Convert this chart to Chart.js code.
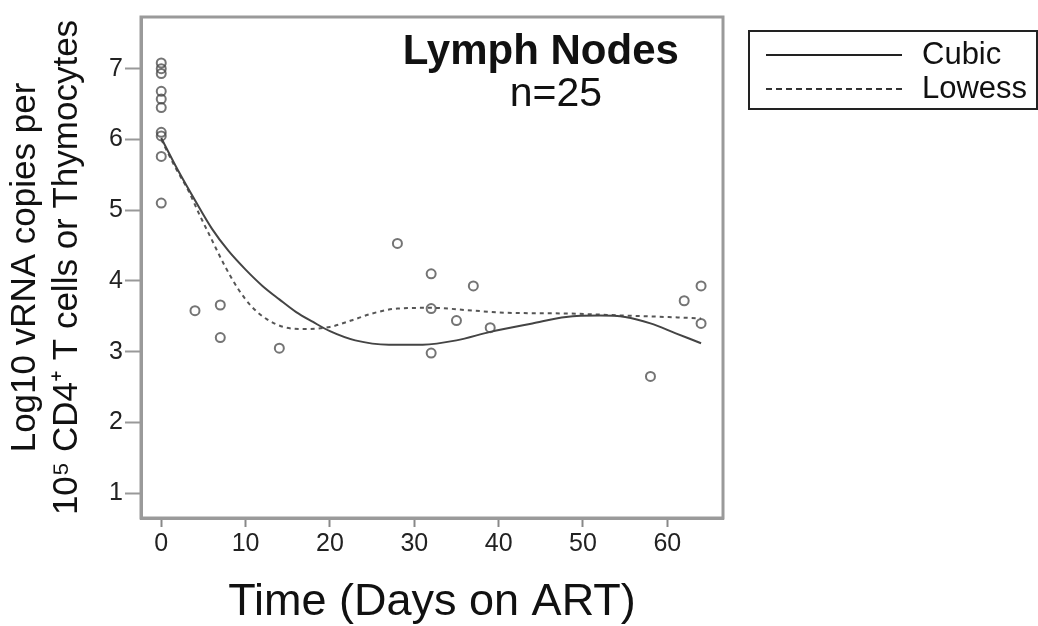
<!DOCTYPE html>
<html>
<head>
<meta charset="utf-8">
<script src="https://cdn.jsdelivr.net/npm/chart.js@4.4.1/dist/chart.umd.min.js"></script>
<style>
  body { margin: 0; background: #fff; font-family: "Liberation Sans", Arial, sans-serif; }
  #wrap { position: relative; width: 1038px; height: 626px; }
  #legend { position: absolute; left: 748px; top: 30px; width: 286px; height: 76px; border: 2px solid #222; }
  .row { position: absolute; left: 0; width: 100%; height: 36px; }
  .sample { position: absolute; left: 16px; width: 136px; top: 18px; }
  .lbl { position: absolute; left: 172px; top: 0; font-size: 31px; line-height: 36px; color: #111; }
</style>
</head>
<body>
<div id="wrap">
  <canvas id="chart" width="1038" height="626"></canvas>
  <div id="legend">
    <div class="row" style="top:4px"><div class="sample" style="border-top:2px solid #222"></div><div class="lbl">Cubic</div></div>
    <div class="row" style="top:38px"><div class="sample" style="border-top:2px dashed #333"></div><div class="lbl">Lowess</div></div>
  </div>
</div>
<script>
// observed data points (days on ART, log10 vRNA)
const pointDays = [0, 0, 0, 0, 0, 0, 0, 0, 0, 0, 4, 7, 7, 14, 28, 32, 32, 32, 35, 37, 39, 58, 62, 64, 64];
const pointVals = [7.08, 7.0, 6.93, 6.68, 6.57, 6.45, 6.1, 6.05, 5.76, 5.1, 3.58, 3.66, 3.2, 3.05, 4.53, 4.1, 3.61, 2.98, 3.44, 3.93, 3.34, 2.65, 3.72, 3.93, 3.4];

// cubic fit
const cubicDays = [0, 2, 4, 6, 8, 10, 12, 14, 16, 18, 20, 23, 27, 31, 35, 39, 44, 48, 52, 55, 58, 61, 64];
const cubicVals = [6.02, 5.56, 5.14, 4.74, 4.42, 4.16, 3.93, 3.74, 3.56, 3.42, 3.29, 3.16, 3.10, 3.10, 3.16, 3.28, 3.40, 3.49, 3.51, 3.49, 3.40, 3.26, 3.12];

// lowess fit
const lowessDays = [0, 1.6, 3.2, 4.6, 6, 7.5, 9.1, 10.7, 12.5, 14.5, 17, 20, 22.5, 25, 28, 32, 37, 41, 48, 55, 60, 64];
const lowessVals = [6.0, 5.62, 5.28, 4.92, 4.58, 4.22, 3.89, 3.64, 3.46, 3.35, 3.32, 3.35, 3.44, 3.54, 3.61, 3.62, 3.58, 3.55, 3.54, 3.51, 3.49, 3.47];

const xTicks = [0, 10, 20, 30, 40, 50, 60];
const yTicks = [1, 2, 3, 4, 5, 6, 7];

function pairs(xs, ys) {
  return xs.map((x, i) => ({ x: x, y: ys[i] }));
}

const frame = {
  id: 'frame',
  afterDraw(chart) {
    const ctx = chart.ctx;
    const a = chart.chartArea;
    ctx.save();
    ctx.strokeStyle = '#9a9a9a';
    ctx.lineWidth = 3;
    ctx.strokeRect(a.left, a.top, a.right - a.left, a.bottom - a.top);
    // panel text
    const xs = chart.scales.x, ys = chart.scales.y;
    ctx.fillStyle = '#111';
    ctx.textAlign = 'center';
    ctx.textBaseline = 'alphabetic';
    ctx.font = 'bold 42px "Liberation Sans", Arial, sans-serif';
    ctx.fillText('Lymph Nodes', xs.getPixelForValue(45.0), ys.getPixelForValue(7.06));
    ctx.font = '41px "Liberation Sans", Arial, sans-serif';
    ctx.fillText('n=25', xs.getPixelForValue(46.8), ys.getPixelForValue(6.47));
    ctx.restore();
  }
};

new Chart(document.getElementById('chart'), {
  type: 'scatter',
  data: {
    datasets: [
      {
        label: 'Cubic',
        data: pairs(cubicDays, cubicVals),
        showLine: true,
        borderColor: '#444',
        borderWidth: 2,
        pointRadius: 0,
        cubicInterpolationMode: 'monotone'
      },
      {
        label: 'Lowess',
        data: pairs(lowessDays, lowessVals),
        showLine: true,
        borderColor: '#555',
        borderWidth: 2,
        borderDash: [4, 4],
        pointRadius: 0,
        cubicInterpolationMode: 'monotone'
      },
      {
        label: 'Data',
        data: pairs(pointDays, pointVals),
        pointRadius: 4.5,
        pointBorderWidth: 2,
        borderColor: 'rgba(70,70,70,0.75)',
        backgroundColor: 'rgba(0,0,0,0)'
      }
    ]
  },
  options: {
    responsive: false,
    animation: false,
    devicePixelRatio: 1,
    layout: { padding: { left: 0, top: 12, right: 315, bottom: 0 } },
    plugins: { legend: { display: false }, tooltip: { enabled: false } },
    scales: {
      x: {
        type: 'linear',
        min: -2.4,
        max: 66.6,
        afterBuildTicks: s => { s.ticks = xTicks.map(v => ({ value: v })); },
        afterFit: s => { s.height = 108; },
        grid: { drawOnChartArea: false, tickLength: 9, color: '#888', tickWidth: 2 },
        border: { color: '#9a9a9a', width: 3 },
        ticks: { color: '#222', padding: 2, font: { size: 25, family: '"Liberation Sans", Arial' } },
        title: {
          display: true,
          text: 'Time (Days on ART)',
          color: '#111',
          font: { size: 45, family: '"Liberation Sans", Arial' },
          padding: { top: 4, bottom: -4 }
        }
      },
      y: {
        min: 0.65,
        max: 7.73,
        afterBuildTicks: s => { s.ticks = yTicks.map(v => ({ value: v })); },
        afterFit: s => { s.width = 141; },
        grid: { drawOnChartArea: false, tickLength: 16, color: '#999', tickWidth: 2 },
        border: { color: '#9a9a9a', width: 3 },
        ticks: { color: '#222', padding: 2, font: { size: 25, family: '"Liberation Sans", Arial' } },
        title: {
          display: true,
          text: ['Log10 vRNA copies per', '10\u2075 CD4\u207A T cells or Thymocytes'],
          color: '#111',
          font: { size: 35, family: '"Liberation Sans", Arial', lineHeight: 1.2 },
          padding: { top: 4, bottom: 0 }
        }
      }
    }
  },
  plugins: [frame]
});
</script>
</body>
</html>
